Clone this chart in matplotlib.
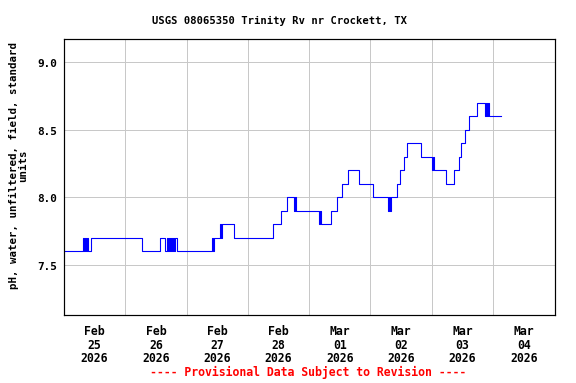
import matplotlib
matplotlib.use("Agg")
import matplotlib.pyplot as plt

# hours since 2026-02-25 00:00 where the reading changes, and the new value
hours = [0, 7.4, 7.8, 8.2, 8.6, 9.0, 9.4, 9.8, 10.5, 30.5, 37.6, 39.5, 40.3, 40.7,
         41.1, 41.5, 41.9, 42.3, 42.7, 43.1, 43.5, 44.2, 57.9, 58.3, 58.7, 61.1,
         61.5, 61.9, 66.6, 81.8, 85.0, 87.3, 90.0, 90.4, 90.8, 99.8, 100.2, 100.6,
         104.5, 106.9, 108.8, 111.2, 115.5, 121.0, 126.8, 127.2, 127.6, 128.0,
         130.4, 131.5, 133.1, 134.3, 139.8, 144.1, 144.5, 144.8, 149.6, 152.7,
         154.6, 155.4, 157.0, 158.6, 161.7, 164.8, 165.2, 165.6, 166.0, 166.4,
         171.1]
ph = [7.6, 7.7, 7.6, 7.7, 7.6, 7.7, 7.6, 7.6, 7.7, 7.6, 7.7, 7.6, 7.7, 7.6,
      7.7, 7.6, 7.7, 7.6, 7.7, 7.6, 7.7, 7.6, 7.7, 7.6, 7.7, 7.8,
      7.7, 7.8, 7.7, 7.8, 7.9, 8.0, 7.9, 8.0, 7.9, 7.8, 7.9, 7.8,
      7.9, 8.0, 8.1, 8.2, 8.1, 8.0, 7.9, 8.0, 7.9, 8.0,
      8.1, 8.2, 8.3, 8.4, 8.3, 8.2, 8.3, 8.2, 8.1, 8.2,
      8.3, 8.4, 8.5, 8.6, 8.7, 8.6, 8.7, 8.6, 8.7, 8.6,
      8.6]

day_labels = ["Feb\n25\n2026", "Feb\n26\n2026", "Feb\n27\n2026", "Feb\n28\n2026",
              "Mar\n01\n2026", "Mar\n02\n2026", "Mar\n03\n2026", "Mar\n04\n2026"]
y_ticks = [7.5, 8.0, 8.5, 9.0]

mono = "DejaVu Sans Mono"
days = [h / 24 for h in hours]

fig = plt.figure(figsize=(8, 5.333), dpi=72)
ax = fig.add_axes([0.111, 0.177, 0.8525, 0.719])

ax.step(days, ph, where="post", color="#0000ff", lw=1.1)

ax.set_xlim(0, 8.01)
ax.set_ylim(7.13, 9.17)

ax.set_xticks(range(1, 8))
ax.set_xticklabels([])
ax.set_xticks([d + 0.5 for d in range(8)], minor=True)
ax.set_xticklabels(day_labels, minor=True, fontfamily=mono, fontweight="bold",
                   fontsize=11.5, linespacing=1.05)
ax.set_yticks(y_ticks)
ax.set_yticklabels([f"{v:.1f}" for v in y_ticks], fontfamily=mono,
                   fontweight="bold", fontsize=11)
ax.tick_params(axis="x", which="both", length=0, pad=9)
ax.tick_params(axis="y", which="both", length=0, pad=7)

ax.grid(True, which="major", color="#c8c8c8", lw=1)
ax.set_axisbelow(True)
for s in ax.spines.values():
    s.set_linewidth(1.2)
    s.set_color("black")

fig.text(0.486, 0.945, "USGS 08065350 Trinity Rv nr Crockett, TX", fontfamily=mono,
         fontweight="bold", fontsize=10.5, ha="center", va="center")
ax.set_ylabel("pH, water, unfiltered, field, standard\nunits", fontfamily=mono,
              fontweight="bold", fontsize=10.8, linespacing=0.95)
ax.yaxis.set_label_coords(-0.072, 0.545)

fig.text(0.535, 0.022, "---- Provisional Data Subject to Revision ----",
         color="red", fontfamily=mono, fontweight="bold", fontsize=11.5,
         ha="center")

fig.savefig("out.png", dpi=72)
